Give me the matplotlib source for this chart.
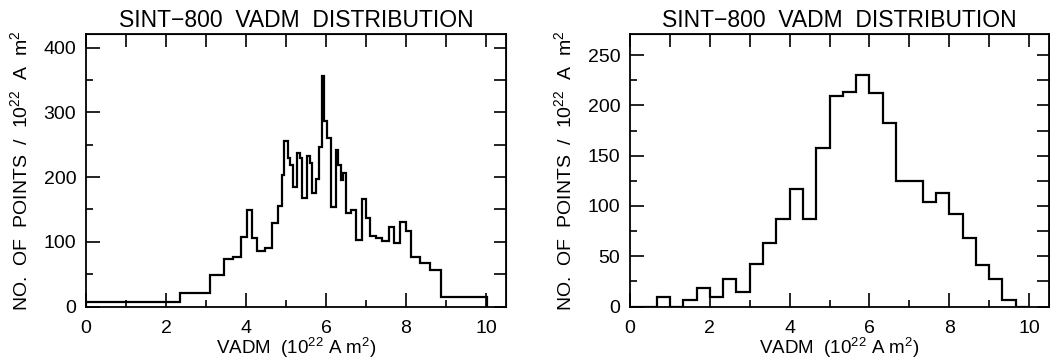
import numpy as np
import matplotlib
matplotlib.use('Agg')
import matplotlib.pyplot as plt
from matplotlib.ticker import MultipleLocator, NullFormatter

plt.rcParams['font.family'] = ['Liberation Sans', 'DejaVu Sans']

# left panel: variable-width bins (counts per 10^22 A m^2)
left_edges = [0, 2.34, 3.11, 3.46, 3.67, 3.88, 4.03, 4.14, 4.28, 4.47, 4.65, 4.80,
              4.89, 4.96, 5.05, 5.11, 5.18, 5.28, 5.34, 5.41, 5.53, 5.60, 5.66,
              5.76, 5.82, 5.91, 5.95, 6.02, 6.13, 6.24, 6.30, 6.38, 6.43, 6.50,
              6.63, 6.74, 6.90, 7.00, 7.11, 7.25, 7.41, 7.57, 7.71, 7.86, 8.00,
              8.12, 8.35, 8.60, 8.87, 10.02]
left_counts = [7, 21, 48, 73, 77, 107, 149, 106, 86, 90, 129, 155, 203, 255, 230,
               219, 184, 237, 229, 168, 232, 222, 176, 197, 247, 356, 286, 260,
               154, 242, 219, 196, 207, 144, 149, 103, 166, 136, 109, 106, 101,
               123, 98, 131, 117, 77, 67, 57, 14]

# right panel: 30 equal bins from 0 to 10
right_edges = np.linspace(0, 10, 31)
right_counts = [0, 0, 9, 0, 6, 18, 9, 27, 14, 42, 63, 87, 117, 87, 158, 209, 213,
                230, 212, 182, 125, 125, 104, 113, 92, 68, 41, 27, 6, 0]

title = 'SINT\u2212800  VADM  DISTRIBUTION'
xlab = r'VADM  ($\mathregular{10^{22}}$ A $\mathregular{m^2}$)'
ylab = r'NO.  OF  POINTS  /  $\mathregular{10^{22}}$  A  $\mathregular{m^2}$'

fig = plt.figure(figsize=(10.5, 3.64), dpi=100)
W, H = 1050.0, 364.0
ax1 = fig.add_axes([86 / W, 57.5 / H, 420 / W, 272.5 / H])
ax2 = fig.add_axes([630 / W, 57.5 / H, 419 / W, 272.5 / H])


def style(ax, edges, counts, ymax, ymaj, ymin):
    ax.stairs(counts, edges, color='k', lw=1.6)
    ax.set_xlim(0, 10.5)
    ax.set_ylim(0, ymax)
    ax.xaxis.set_major_locator(MultipleLocator(2))
    ax.xaxis.set_minor_locator(MultipleLocator(1))
    ax.yaxis.set_major_locator(MultipleLocator(ymaj))
    ax.yaxis.set_minor_locator(MultipleLocator(ymin))
    ax.tick_params(which='major', direction='in', length=10, width=1.2,
                   labelsize=14, pad=7)
    ax.tick_params(axis='x', which='major', pad=10)
    ax.tick_params(which='minor', direction='in', length=5, width=1.2)
    for s in ax.spines.values():
        s.set_linewidth(1.3)
    # top and right sides: equal ticks, no labels
    top = ax.secondary_xaxis('top')
    top.xaxis.set_major_locator(MultipleLocator(1))
    top.xaxis.set_major_formatter(NullFormatter())
    top.tick_params(direction='in', length=9, width=1.2)
    right = ax.secondary_yaxis('right')
    right.yaxis.set_major_locator(MultipleLocator(ymin))
    right.yaxis.set_major_formatter(NullFormatter())
    right.tick_params(direction='in', length=9, width=1.2)
    ax.set_title(title, fontsize=16.5, pad=5)
    ax.set_xlabel(xlab, fontsize=13.5, labelpad=-1)
    ax.set_ylabel(ylab, fontsize=14, labelpad=9)


style(ax1, left_edges, left_counts, 421, 100, 50)
style(ax2, right_edges, right_counts, 271, 50, 25)

fig.savefig('out.png', dpi=100)
